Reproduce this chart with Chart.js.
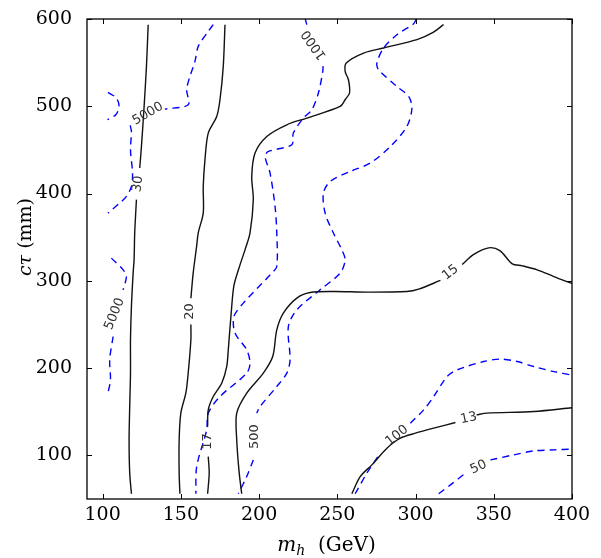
<!DOCTYPE html>
<html>
<head>
<meta charset="utf-8">
<script src="https://cdn.jsdelivr.net/npm/chart.js@4.4.1/dist/chart.umd.min.js"></script>
<style>
  html, body { margin: 0; padding: 0; background: #fff; }
  #chart { display: block; }
</style>
</head>
<body>
<canvas id="chart" width="601" height="558"></canvas>
<script>

// axis ticks
const xTicks = [100, 150, 200, 250, 300, 350, 400];
const yTicks = [100, 200, 300, 400, 500, 600];

// solid contours, [m_h, ctau] pairs, null = gap where the label sits
const solid30 = [[129.1,593.5],[128.0,545.7],[126.5,499.8],[124.8,454],[123.7,429.2],null,[121.6,393],[120.5,355],[120.1,324],[119.5,309.4],[118.4,270.6],[117.8,232.4],[117.8,194.5],[117.3,156],[116.9,117.7],[117.3,79.9],[118.4,56]];
const solid20 = [[178.2,593.5],[177.1,545.7],[175.0,507.5],[172.9,488.3],[167.5,469.3],[165.4,438.8],[164.3,408.1],[164.3,377.6],[161.1,355],[160.1,340],[157.9,309.4],[156.4,280],null,[156.4,250],[156.4,232.4],[154.7,194.5],[153.2,171.6],[150.0,148.7],[148.9,117.7],[148.9,79.9],[149.4,56]];
const solid17 = [[167.1,56],[168.1,79.6],[167.5,98.6],null,[167.1,133.0],[167.5,152.1],[170.7,167.4],[176.1,182.7],[179.3,201.8],[180.3,220.9],[182.5,270.6],[184.0,295.4],[187.8,318.3],[191.0,335.5],[194.2,355],[196.3,392.9],[195.3,419.6],[197.4,446.4],[204.9,465.4],[217.7,478.8],[230.5,486.5],[251.8,499.8],[255.0,507.5],[257.8,515.2],[257.1,530.4],[255.0,539.9],[255.7,549.6],[266.8,561.0],[279.6,566.8],[300.9,576.3],[310.6,584.0],[317.9,593.5]];
const solid15 = [[188.9,56],[187.3,79.6],[185.7,117.7],[185.7,148.4],[192.1,171.3],[202.7,194.2],[208.7,213.2],[211.3,243.8],[215.5,263.0],[224.1,280.2],[232.6,286.6],[247.5,287.8],[268.9,287.1],[294.5,287.8],[302.0,290.5],[315.9,300.4],null,[329.8,318.8],[337.2,330.2],[346.8,337.8],[353.9,334.6],[361.8,319.5],[368.2,317.2],[377.8,312.6],[388.4,304.9],[400,297]];
const solid13 = [[259.3,56],[264.6,75.7],[272.1,89.1],[281.7,108.2],[290.3,119.7],[299.9,125.4],[311.6,131.2],[325.5,137.6],null,[339.0,146.4],[345.5,148.4],[375.6,150.2],[400,154.5]];

// dashed contours
const dashed5000a = [[103.4,515.9],[108.8,509.4],[110.5,499.8],[108.4,490.3],[103.1,484.6]];
const dashed5000b = [[170.7,593.5],[167.5,585.8],[161.1,568.6],[159.0,551.4],[155.8,534.2],[153.7,519.0],[154.7,501.8],[139.8,496.8],null,[117.6,478],[118.4,471.2],[117.8,450.2],[119.1,423.5],[118.4,408.1],[115.2,396.7],[110.9,389.1],[103.4,377.6]];
const dashed5000c = [[105.6,326.0],[113.1,312.6],[115.2,304.9],[113.1,289.7],null,[106.7,236.2],[104.5,209.5],[105.0,186.6],[103.4,171.3]];
const dashed1000 = [[229.5,600],[230.5,593.5],null,[240.9,546],[240.7,539.9],[237.9,515.2],[233.7,496.0],[228.3,486.5],[221.9,469.3],[220.9,455.9],[205.9,448.2],[203.8,442.5],[207.0,423.5],[210.2,385.2],[211.3,354.7],[211.3,316.4],[208.1,308.8],[189.9,274.4],[183.9,259.1],[184.6,240.1],[192.1,220.9],[194.2,205.7],[192.1,194.2],[175.0,167.4],[167.5,148.4],[166.5,129.3],[160.1,87.1],[159.6,56]];
const dashed500 = [[300.5,600],[298.8,594.6],[288.1,582.0],[279.6,566.8],[275.3,549.6],[276.4,541.9],[288.1,522.7],[295.6,511.3],[297.7,498.0],[294.5,476.9],[283.9,453.9],[271.0,434.9],[258.2,425.3],[245.4,413.8],[241.1,400.5],[242.2,377.6],[247.5,354.7],[252.9,335.5],[255.0,324.0],[251.8,308.8],[239.0,289.7],[224.1,266.8],[218.7,247.6],[219.8,209.4],[217.7,194.2],[211.3,178.9],[200.6,155.9],[198.5,148.4],null,[196.3,94.8],[192.1,75.7],[186.7,56]];
const dashed100 = [[261.4,56],[268.9,79.6],[277.4,102.5],null,[296.7,136.9],[305.2,152.1],[311.6,167.4],[320.2,190.3],[326.6,198.0],[343.6,207.5],[354.3,210.3],[365.0,207.5],[375.6,201.8],[388.4,196.0],[400,192]];
const dashed50 = [[314.8,56],[322.3,66.2],[331.9,79.6],null,[347.9,94.8],[362.8,100.6],[375.6,105.1],[388.4,106.3],[400,107.2]];

// contour labels
const labelText  = ["5000", "30", "5000", "20", "17", "500", "1000", "15", "100", "13", "50"];
const labelX     = [128.9, 122.6, 107.7, 155.8, 167.3, 197.4, 235.2, 322.3, 288.1, 334.0, 340.3];
const labelY     = [491.4, 411, 262, 264.8, 116, 121.5, 570.5, 309.5, 122.5, 142.6, 86.5];
const labelAngle = [-30, -82, -68, -90, -90, -90, -125, -38, -38, -12, -25];

// split a contour at its gaps
function pieces(line){
    const out = [];
    let cur = [];
    for(const p of line){
        if(p === null){
            if(cur.length) out.push(cur);
            cur = [];
        } else {
            cur.push({x: p[0], y: p[1]});
        }
    }
    if(cur.length) out.push(cur);
    return out;
}

const datasets = [];

for(const line of [solid30, solid20, solid17, solid15, solid13]){
    for(const seg of pieces(line)){
        datasets.push({
            data: seg,
            showLine: true,
            borderColor: "#111",
            borderWidth: 1.4,
            pointRadius: 0,
            tension: 0.3,
            fill: false
        });
    }
}

for(const line of [dashed5000a, dashed5000b, dashed5000c, dashed1000, dashed500, dashed100, dashed50]){
    for(const seg of pieces(line)){
        datasets.push({
            data: seg,
            showLine: true,
            borderColor: "#0000ff",
            borderWidth: 1.4,
            borderDash: [7, 5],
            pointRadius: 0,
            tension: 0.3,
            fill: false
        });
    }
}

function drawRun(ctx, runs){
    let total = 0;
    for(const r of runs){
        ctx.font = r.font;
        r.w = ctx.measureText(r.text).width;
        total += r.w;
    }
    let x = -total / 2;
    for(const r of runs){
        ctx.font = r.font;
        ctx.fillText(r.text, x, r.dy || 0);
        x += r.w;
    }
}

const decorations = {
    id: "decorations",
    afterDraw(chart){
        const ctx = chart.ctx;
        const a = chart.chartArea;
        const sx = chart.scales.x;
        const sy = chart.scales.y;

        ctx.save();

        // frame + inward ticks
        ctx.strokeStyle = "#000";
        ctx.lineWidth = 1.3;
        ctx.strokeRect(a.left, a.top, a.right - a.left, a.bottom - a.top);
        ctx.lineWidth = 1;
        ctx.beginPath();
        for(const v of xTicks){
            const px = Math.round(sx.getPixelForValue(v)) + 0.5;
            ctx.moveTo(px, a.bottom); ctx.lineTo(px, a.bottom - 5);
            ctx.moveTo(px, a.top); ctx.lineTo(px, a.top + 5);
        }
        for(const v of yTicks){
            const py = Math.round(sy.getPixelForValue(v)) + 0.5;
            ctx.moveTo(a.left, py); ctx.lineTo(a.left + 5, py);
            ctx.moveTo(a.right, py); ctx.lineTo(a.right - 5, py);
        }
        ctx.stroke();

        // contour labels
        ctx.fillStyle = "#333";
        ctx.font = '13px "DejaVu Sans"';
        ctx.textAlign = "center";
        ctx.textBaseline = "middle";
        labelText.forEach((t, i) => {
            ctx.save();
            ctx.translate(sx.getPixelForValue(labelX[i]), sy.getPixelForValue(labelY[i]));
            ctx.rotate(labelAngle[i] * Math.PI / 180);
            ctx.fillText(t, 0, 0);
            ctx.restore();
        });

        // axis titles
        ctx.fillStyle = "#000";
        ctx.textAlign = "left";
        ctx.textBaseline = "alphabetic";

        ctx.save();
        ctx.translate((a.left + a.right) / 2 - 3, 551);
        drawRun(ctx, [
            {text: "m", font: 'italic 20px "DejaVu Serif"'},
            {text: "h", font: 'italic 14px "DejaVu Serif"', dy: 4},
            {text: "  (GeV)", font: '20px "DejaVu Serif"'}
        ]);
        ctx.restore();

        ctx.save();
        ctx.translate(31, (a.top + a.bottom) / 2 - 22);
        ctx.rotate(-Math.PI / 2);
        drawRun(ctx, [
            {text: "cτ", font: 'italic 19px "DejaVu Serif"'},
            {text: " (mm)", font: '19px "DejaVu Serif"'}
        ]);
        ctx.restore();

        ctx.restore();
    }
};

new Chart(document.getElementById("chart"), {
    type: "scatter",
    data: { datasets },
    options: {
        responsive: false,
        animation: false,
        devicePixelRatio: 1,
        layout: { padding: { left: 0, top: 19, right: 29, bottom: 0 } },
        plugins: {
            legend: { display: false },
            tooltip: { enabled: false }
        },
        scales: {
            x: {
                type: "linear",
                min: 90,
                max: 400,
                grid: { display: false },
                border: { display: false },
                ticks: {
                    color: "#000",
                    font: { family: "DejaVu Serif", size: 19 },
                    padding: -3,
                    maxRotation: 0,
                    autoSkip: false
                },
                afterBuildTicks: s => { s.ticks = xTicks.map(v => ({ value: v })); },
                afterFit: s => { s.height = 59; }
            },
            y: {
                type: "linear",
                min: 50,
                max: 600,
                grid: { display: false },
                border: { display: false },
                ticks: {
                    color: "#000",
                    font: { family: "DejaVu Serif", size: 19 },
                    padding: 7,
                    autoSkip: false
                },
                afterBuildTicks: s => { s.ticks = yTicks.map(v => ({ value: v })); },
                afterFit: s => { s.width = 87; }
            }
        }
    },
    plugins: [decorations]
});

</script>
</body>
</html>
